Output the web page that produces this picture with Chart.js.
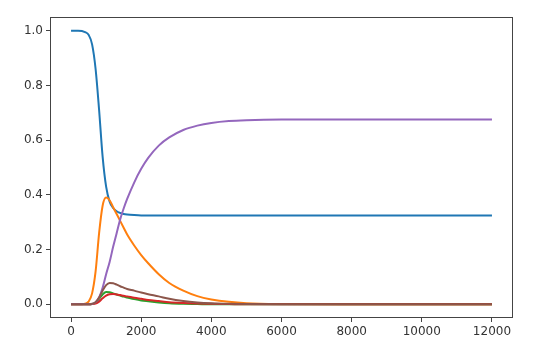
<!DOCTYPE html>
<html>
<head>
<meta charset="utf-8">
<script src="https://cdn.jsdelivr.net/npm/chart.js@4"></script>
<style>
  html, body { margin: 0; padding: 0; background: #fff; }
  #wrap { width: 560px; height: 359px; }
</style>
</head>
<body>
<div id="wrap"><canvas id="simChart" width="560" height="359"></canvas></div>
<script>
// sample times
var times = [0, 200, 400, 500, 600, 700, 800, 900, 1000, 1100, 1200, 1300, 1400, 1500, 1600,
             1800, 2000, 2200, 2500, 2800, 3200, 3600, 4000, 4500, 5000, 6000, 8000, 10000, 12000];

var blueVals   = [1.0, 1.0, 0.995, 0.985, 0.95, 0.86, 0.71, 0.54, 0.43, 0.375, 0.352, 0.34, 0.334, 0.33, 0.328,
                  0.326, 0.325, 0.325, 0.325, 0.325, 0.325, 0.325, 0.325, 0.325, 0.325, 0.325, 0.325, 0.325, 0.325];
var orangeVals = [0, 0, 0.002, 0.01, 0.04, 0.12, 0.26, 0.36, 0.39, 0.38, 0.355, 0.33, 0.305, 0.28, 0.255,
                  0.215, 0.18, 0.15, 0.11, 0.078, 0.05, 0.03, 0.018, 0.009, 0.004, 0.001, 0, 0, 0];
var greenVals  = [0, 0, 0, 0, 0.001, 0.006, 0.02, 0.036, 0.045, 0.044, 0.04, 0.036, 0.032, 0.028, 0.025,
                  0.019, 0.014, 0.011, 0.007, 0.004, 0.002, 0.001, 0, 0, 0, 0, 0, 0, 0];
var redVals    = [0, 0, 0, 0, 0.001, 0.003, 0.01, 0.022, 0.032, 0.037, 0.038, 0.036, 0.034, 0.031, 0.029,
                  0.024, 0.02, 0.016, 0.012, 0.008, 0.005, 0.003, 0.002, 0.001, 0, 0, 0, 0, 0];
var purpleVals = [0, 0, 0, 0, 0.001, 0.008, 0.025, 0.06, 0.11, 0.155, 0.21, 0.26, 0.31, 0.35, 0.385,
                  0.445, 0.495, 0.535, 0.58, 0.61, 0.637, 0.653, 0.663, 0.67, 0.673, 0.675, 0.675, 0.675, 0.675];
var brownVals  = [0, 0, 0, 0, 0.002, 0.008, 0.025, 0.05, 0.07, 0.078, 0.077, 0.072, 0.066, 0.061, 0.056,
                  0.05, 0.043, 0.037, 0.029, 0.02, 0.012, 0.007, 0.004, 0.002, 0.001, 0, 0, 0, 0];

var xTicks = [0, 2000, 4000, 6000, 8000, 10000, 12000];
var yTicks = [0.0, 0.2, 0.4, 0.6, 0.8, 1.0];

var seriesList = [blueVals, orangeVals, greenVals, redVals, purpleVals, brownVals];
var seriesColors = ['#1f77b4', '#ff7f0e', '#2ca02c', '#d62728', '#9467bd', '#8c564b'];

function toPoints(vals) {
    return times.map(function (t, i) { return { x: t, y: vals[i] }; });
}

// matplotlib style box round the plot area
var frameBox = {
    id: 'frameBox',
    afterDatasetsDraw: function (chart) {
        var a = chart.chartArea, ctx = chart.ctx;
        ctx.save();
        ctx.strokeStyle = '#444';
        ctx.lineWidth = 1;
        ctx.strokeRect(a.left + 0.5, a.top + 0.5, a.right - a.left - 1, a.bottom - a.top - 1);
        ctx.restore();
    }
};

function createChart() {
    var ctx = document.getElementById('simChart').getContext('2d');

    var datasets = seriesList.map(function (vals, i) {
        return {
            data: toPoints(vals),
            borderColor: seriesColors[i],
            borderWidth: 2,
            pointRadius: 0,
            fill: false,
            cubicInterpolationMode: 'monotone',
            order: -i
        };
    });

    new Chart(ctx, {
        type: 'line',
        data: { datasets: datasets },
        options: {
            responsive: false,
            animation: false,
            layout: { padding: { left: 0, top: 17, right: 47, bottom: 0 } },
            plugins: { legend: { display: false }, tooltip: { enabled: false } },
            scales: {
                x: {
                    type: 'linear',
                    min: -600,
                    max: 12600,
                    afterBuildTicks: function (scale) {
                        scale.ticks = xTicks.map(function (v) { return { value: v }; });
                    },
                    afterFit: function (scale) { scale.height = 41; },
                    grid: { drawOnChartArea: false, drawTicks: true, tickLength: 4, tickColor: '#444' },
                    border: { display: false },
                    ticks: {
                        color: '#333',
                        padding: 3,
                        maxRotation: 0,
                        font: { family: 'DejaVu Sans', size: 12 },
                        callback: function (v) { return String(v); }
                    }
                },
                y: {
                    min: -0.05,
                    max: 1.05,
                    afterBuildTicks: function (scale) {
                        scale.ticks = yTicks.map(function (v) { return { value: v }; });
                    },
                    afterFit: function (scale) { scale.width = 50; },
                    grid: { drawOnChartArea: false, drawTicks: true, tickLength: 4, tickColor: '#444' },
                    border: { display: false },
                    ticks: {
                        color: '#333',
                        padding: 3,
                        font: { family: 'DejaVu Sans', size: 12 },
                        callback: function (v) { return Number(v).toFixed(1); }
                    }
                }
            }
        },
        plugins: [frameBox]
    });
}

createChart();
</script>
</body>
</html>
